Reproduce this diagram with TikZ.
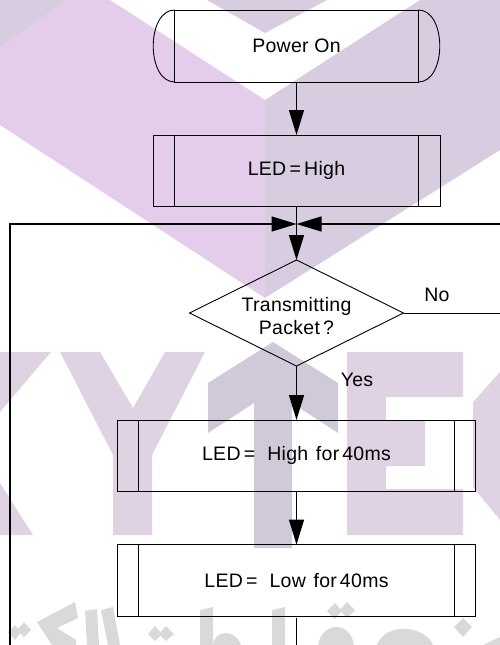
\documentclass[tikz,border=0pt]{standalone}
\usepackage{xcolor}
\usepackage{fontspec}
\setmainfont[LetterSpace=1.5]{Liberation Sans}
\usetikzlibrary{positioning,shapes.geometric,arrows.meta}

\definecolor{wmpurple}{HTML}{E3CDEB}
\definecolor{wmgrey}{HTML}{D8CDE0}
\definecolor{wmletter}{HTML}{DFD3E3}
\definecolor{wmone}{HTML}{CFC9D8}
\definecolor{wmtext}{HTML}{D9D9D9}

\tikzset{
  flowtext/.style = {font=\fontsize{19.5}{23}\selectfont, text=black},
  flowbox/.style = {draw, flowtext, line width=0.9pt, inner sep=0pt, outer sep=0pt},
  termbox/.style = {flowbox, minimum width=243.5pt, minimum height=72pt},
  subbox/.style = {flowbox, minimum height=71.6pt,
    path picture={
      \draw[line width=0.9pt] ([xshift=21.3pt]path picture bounding box.north west) -- ([xshift=21.3pt]path picture bounding box.south west);
      \draw[line width=0.9pt] ([xshift=-21.3pt]path picture bounding box.north east) -- ([xshift=-21.3pt]path picture bounding box.south east);
    }},
  flowarrow/.style = {line width=1.3pt, -{Triangle[length=25pt,width=15pt]}},
  flowline/.style = {line width=1.3pt},
}

\begin{document}
\begin{tikzpicture}[x=1pt, y=-1pt]
    \useasboundingbox (0,0) rectangle (500,645);

    \fill[wmgrey] (0,0) -- (68,0) -- (0,48) -- cycle;
    \fill[wmgrey] (207,0) -- (327,0) -- (265,33) -- cycle;
    \fill[wmpurple] (68,0) -- (110,0) -- (265,100) -- (265,298) -- (0,125) -- (0,48) -- cycle;
    \fill[wmgrey] (420,0) -- (500,0) -- (500,150) -- (265,298) -- (265,100) -- cycle;

    \fill[wmletter] (0,352) -- (51,352) -- (0,412) -- cycle;
    \fill[wmletter] (0,483) -- (33,535) -- (0,535) -- cycle;
    \fill[wmletter] (60,352) -- (100,352) -- (133,408) -- (165,352) -- (205,352) -- (152,455)
      -- (152,535) -- (113,535) -- (113,455) -- cycle;
    \fill[wmone] (208,383) -- (273,342) -- (338,383) -- (338,433) -- (292,403) -- (292,548)
      -- (254,548) -- (254,403) -- (208,433) -- cycle;
    \fill[wmletter] (347,352) -- (463,352) -- (463,397) -- (386,397) -- (386,420) -- (425,420)
      -- (425,466) -- (386,466) -- (386,489) -- (463,489) -- (463,535) -- (347,535) -- cycle;
    \fill[wmletter] (500,372) -- (473,402) -- (473,487) -- (500,520) -- cycle;

    \fill[wmtext] (15,625) -- (21,632) -- (15,640) -- (8,632) -- cycle;
    \fill[wmtext] (24,622) -- (31,630) -- (24,637) -- (17,630) -- cycle;
    \fill[wmtext] (75,602) -- (78,618) -- (57,628) -- (76,640) -- (76,645) -- (52,645) -- (37,622) -- cycle;
    \fill[wmtext] (85,611) -- (97,609) -- (99,645) -- (87,645) -- cycle;
    \fill[wmtext] (101,610) -- (113,607) -- (120,645) -- (108,645) -- cycle;
    \fill[wmtext] (155,626) -- (162,634) -- (155,641) -- (148,634) -- cycle;
    \fill[wmtext] (166,626) -- (174,634) -- (166,641) -- (159,634) -- cycle;
    \fill[wmtext] (200,610) -- (213,607) -- (213,645) -- (200,645) -- cycle;
    \fill[wmtext] (213,645) .. controls (214,630) and (235,628) .. (241,645) -- cycle;
    \fill[wmtext] (272,610) -- (285,607) -- (285,645) -- (272,645) -- cycle;
    \fill[wmtext] (335,603) -- (342,611) -- (335,619) -- (327,611) -- cycle;
    \fill[wmtext] (347,602) -- (355,610) -- (347,618) -- (340,610) -- cycle;
    \fill[wmtext] (318,645) .. controls (322,622) and (350,620) .. (354,645) -- cycle;
    \fill[wmtext] (377,645) .. controls (385,622) and (425,625) .. (433,645) -- cycle;
    \fill[wmtext] (463,618) -- (472,627) -- (463,637) -- (454,627) -- cycle;
    \fill[wmtext] (483,645) -- (500,637) -- (500,645) -- cycle;

    \node[termbox] (power) at (296.5,46) {Power On};
    \node[subbox, minimum width=287pt, below=53pt of power] (ledhigh) {LED\,=\,High};
    \node[draw, shape=diamond, aspect=2.02, line width=0.9pt, inner sep=0pt, outer sep=0pt,
      minimum width=214pt, minimum height=106pt] (transmit) at (296.5,313) {};
    \node[flowtext, align=center, yshift=-3pt] (transmittext) at (transmit) {Transmitting\\Packet\,?};
    \node[subbox, minimum width=358pt, below=54pt of transmit] (pulsehigh) {LED\,=\hspace{12pt}High\hspace{2pt} for\hspace{3pt}40ms};
    \node[subbox, minimum width=358pt, below=53pt of pulsehigh] (pulselow) {LED\,=\hspace{12pt}Low\hspace{2pt} for\hspace{3pt}40ms};

    \node[flowtext] (nolabel) at (437,295) {No};
    \node[flowtext] (yeslabel) at (357,380) {Yes};

    \coordinate (merge) at (296.5,224);
    \coordinate (leftend) at (10,645);
    \coordinate (leftturn) at (10,224);
    \coordinate (rightend) at (500,224);
    \coordinate (noend) at (500,313);
    \coordinate (exit) at (296.5,645);

    \draw[flowbox] (power.south west) .. controls +(-28.7,0) and +(-28.7,0) .. (power.north west);
    \draw[flowbox] (power.south east) .. controls +(28.7,0) and +(28.7,0) .. (power.north east);

    \draw[flowarrow] (power) -- (ledhigh);
    \draw[flowline] (ledhigh) -- (merge);
    \draw[flowarrow] (leftend) -- (leftturn) -- (merge);
    \draw[flowarrow] (rightend) -- (merge);
    \draw[flowarrow] (merge) -- (transmit);
    \draw[flowline, line width=0.9pt] (transmit.east) -- (noend);
    \draw[flowarrow] (transmit) -- (pulsehigh);
    \draw[flowarrow] (pulsehigh) -- (pulselow);
    \draw[flowline, shorten <=2pt] (pulselow) -- (exit);
\end{tikzpicture}
\end{document}
